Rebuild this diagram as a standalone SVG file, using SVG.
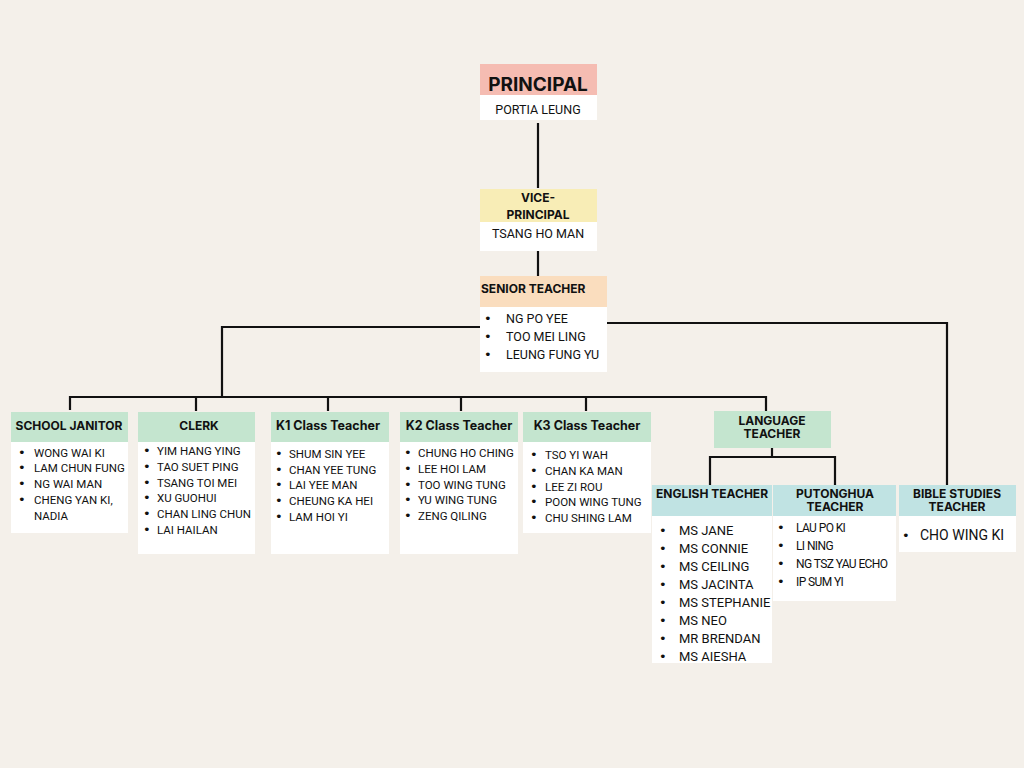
<svg xmlns="http://www.w3.org/2000/svg" width="1024" height="768" viewBox="0 0 1024 768">
<style>
.bg{fill:#F4F0EA}
.w{fill:#FFFFFF}
.pink{fill:#F5BCB2}
.yel{fill:#F8EDB6}
.peach{fill:#FADDBE}
.grn{fill:#C4E5CF}
.teal{fill:#C0E3E3}
.h{font-family:Inter,"Liberation Sans",sans-serif;font-weight:700;fill:#111}
.hc{text-anchor:middle}
.t{font-family:Roboto,"Liberation Sans",sans-serif;fill:#111}
.tc{text-anchor:middle}
.b{font-family:"DejaVu Sans",sans-serif;font-size:13px}
.cond{letter-spacing:-0.6px}
.ln{fill:none;stroke:#111;stroke-width:2.2}
</style>
<rect class="bg" x="0" y="0" width="1024" height="768"/>
<g id="connectors">
<path class="ln" d="M538 123 V188"/>
<path class="ln" d="M538 251 V276"/>
<path class="ln" d="M480 327 H222 V397"/>
<path class="ln" d="M70 410 V397 H766 V411"/>
<path class="ln" d="M196 397 V411"/>
<path class="ln" d="M328 397 V411"/>
<path class="ln" d="M461 397 V411"/>
<path class="ln" d="M586 397 V411"/>
<path class="ln" d="M607 323 H947 V485"/>
<path class="ln" d="M772 448 V457"/>
<path class="ln" d="M710 485 V457 H835 V485"/>
</g>
<g id="principal">
<rect class="pink" x="480" y="64" width="117" height="31"/>
<rect class="w" x="480" y="95" width="117" height="25"/>
<text class="h hc" x="538" y="91" style="font-size:19px">PRINCIPAL</text>
<text class="t tc" x="538" y="114" style="font-size:12.5px">PORTIA LEUNG</text>
</g>
<g id="vice-principal">
<rect class="yel" x="480" y="189" width="117" height="33"/>
<rect class="w" x="480" y="222" width="117" height="29"/>
<text class="h hc" x="538" y="202" style="font-size:12px">VICE-</text>
<text class="h hc" x="538" y="219" style="font-size:12px">PRINCIPAL</text>
<text class="t tc" x="538" y="238" style="font-size:12.5px">TSANG HO MAN</text>
</g>
<g id="senior-teacher">
<rect class="peach" x="480" y="276" width="127" height="31"/>
<rect class="w" x="480" y="307" width="127" height="65"/>
<text class="h" x="481" y="293" style="font-size:12px">SENIOR TEACHER</text>
<g class="t" style="font-size:12.5px">
<text class="b" x="484" y="323">•</text><text x="506" y="323">NG PO YEE</text>
<text class="b" x="484" y="341">•</text><text x="506" y="341">TOO MEI LING</text>
<text class="b" x="484" y="359">•</text><text x="506" y="359">LEUNG FUNG YU</text>
</g>
</g>
<g id="school-janitor">
<rect class="grn" x="11" y="412" width="117" height="30"/>
<rect class="w" x="11" y="442" width="117" height="91"/>
<text class="h hc" x="69" y="430" style="font-size:12px">SCHOOL JANITOR</text>
<g class="t" style="font-size:11.5px">
<text class="b" x="18" y="457">•</text><text x="34" y="457">WONG WAI KI</text>
<text class="b" x="18" y="472">•</text><text x="34" y="472">LAM CHUN FUNG</text>
<text class="b" x="18" y="488">•</text><text x="34" y="488">NG WAI MAN</text>
<text class="b" x="18" y="504">•</text><text x="34" y="504">CHENG YAN KI,</text>
<text x="34" y="520">NADIA</text>
</g>
</g>
<g id="clerk">
<rect class="grn" x="138" y="412" width="117" height="30"/>
<rect class="w" x="138" y="442" width="117" height="112"/>
<text class="h hc" x="199" y="430" style="font-size:12px">CLERK</text>
<g class="t" style="font-size:11.5px">
<text class="b" x="143" y="455">•</text><text x="157" y="455">YIM HANG YING</text>
<text class="b" x="143" y="471">•</text><text x="157" y="471">TAO SUET PING</text>
<text class="b" x="143" y="487">•</text><text x="157" y="487">TSANG TOI MEI</text>
<text class="b" x="143" y="502">•</text><text x="157" y="502">XU GUOHUI</text>
<text class="b" x="143" y="518">•</text><text x="157" y="518">CHAN LING CHUN</text>
<text class="b" x="143" y="534">•</text><text x="157" y="534">LAI HAILAN</text>
</g>
</g>
<g id="k1-class-teacher">
<rect class="grn" x="271" y="412" width="118" height="30"/>
<rect class="w" x="271" y="442" width="118" height="112"/>
<text class="h hc" x="328" y="430" style="font-size:12.5px">K1 Class Teacher</text>
<g class="t" style="font-size:11.5px">
<text class="b" x="275" y="458">•</text><text x="289" y="458">SHUM SIN YEE</text>
<text class="b" x="275" y="474">•</text><text x="289" y="474">CHAN YEE TUNG</text>
<text class="b" x="275" y="489">•</text><text x="289" y="489">LAI YEE MAN</text>
<text class="b" x="275" y="505">•</text><text x="289" y="505">CHEUNG KA HEI</text>
<text class="b" x="275" y="521">•</text><text x="289" y="521">LAM HOI YI</text>
</g>
</g>
<g id="k2-class-teacher">
<rect class="grn" x="400" y="412" width="118" height="30"/>
<rect class="w" x="400" y="442" width="118" height="112"/>
<text class="h hc" x="459" y="430" style="font-size:12.5px">K2 Class Teacher</text>
<g class="t" style="font-size:11.5px">
<text class="b" x="404" y="457">•</text><text x="418" y="457">CHUNG HO CHING</text>
<text class="b" x="404" y="473">•</text><text x="418" y="473">LEE HOI LAM</text>
<text class="b" x="404" y="489">•</text><text x="418" y="489">TOO WING TUNG</text>
<text class="b" x="404" y="504">•</text><text x="418" y="504">YU WING TUNG</text>
<text class="b" x="404" y="520">•</text><text x="418" y="520">ZENG QILING</text>
</g>
</g>
<g id="k3-class-teacher">
<rect class="grn" x="523" y="412" width="128" height="30"/>
<rect class="w" x="523" y="442" width="128" height="91"/>
<text class="h hc" x="587" y="430" style="font-size:12.5px">K3 Class Teacher</text>
<g class="t" style="font-size:11.5px">
<text class="b" x="530" y="459">•</text><text x="545" y="459">TSO YI WAH</text>
<text class="b" x="530" y="475">•</text><text x="545" y="475">CHAN KA MAN</text>
<text class="b" x="530" y="491">•</text><text x="545" y="491">LEE ZI ROU</text>
<text class="b" x="530" y="506">•</text><text x="545" y="506">POON WING TUNG</text>
<text class="b" x="530" y="522">•</text><text x="545" y="522">CHU SHING LAM</text>
</g>
</g>
<g id="language-teacher">
<rect class="grn" x="714" y="411" width="117" height="37"/>
<text class="h hc" x="772" y="425" style="font-size:12px">LANGUAGE</text>
<text class="h hc" x="772" y="438" style="font-size:12px">TEACHER</text>
</g>
<g id="english-teacher">
<rect class="teal" x="652" y="485" width="120" height="31"/>
<rect class="w" x="652" y="516" width="120" height="147"/>
<text class="h hc" x="712" y="498" style="font-size:12px">ENGLISH TEACHER</text>
<g class="t" style="font-size:13px">
<text class="b" x="659" y="535">•</text><text x="679" y="535">MS JANE</text>
<text class="b" x="659" y="553">•</text><text x="679" y="553">MS CONNIE</text>
<text class="b" x="659" y="571">•</text><text x="679" y="571">MS CEILING</text>
<text class="b" x="659" y="589">•</text><text x="679" y="589">MS JACINTA</text>
<text class="b" x="659" y="607">•</text><text x="679" y="607">MS STEPHANIE</text>
<text class="b" x="659" y="625">•</text><text x="679" y="625">MS NEO</text>
<text class="b" x="659" y="643">•</text><text x="679" y="643">MR BRENDAN</text>
<text class="b" x="659" y="661">•</text><text x="679" y="661">MS AIESHA</text>
</g>
</g>
<g id="putonghua-teacher">
<rect class="teal" x="773" y="485" width="123" height="31"/>
<rect class="w" x="773" y="516" width="123" height="85"/>
<text class="h hc" x="835" y="498" style="font-size:12px">PUTONGHUA</text>
<text class="h hc" x="835" y="511" style="font-size:12px">TEACHER</text>
<g class="t cond" style="font-size:12px">
<text class="b" x="777" y="532">•</text><text x="796" y="532">LAU PO KI</text>
<text class="b" x="777" y="550">•</text><text x="796" y="550">LI NING</text>
<text class="b" x="777" y="568">•</text><text x="796" y="568">NG TSZ YAU ECHO</text>
<text class="b" x="777" y="586">•</text><text x="796" y="586">IP SUM YI</text>
</g>
</g>
<g id="bible-studies-teacher">
<rect class="teal" x="899" y="485" width="117" height="31"/>
<rect class="w" x="899" y="516" width="117" height="36"/>
<text class="h hc" x="957" y="498" style="font-size:12px">BIBLE STUDIES</text>
<text class="h hc" x="957" y="511" style="font-size:12px">TEACHER</text>
<g class="t" style="font-size:14px">
<text class="b" x="902" y="540">•</text><text x="920" y="540">CHO WING KI</text>
</g>
</g>
</svg>
